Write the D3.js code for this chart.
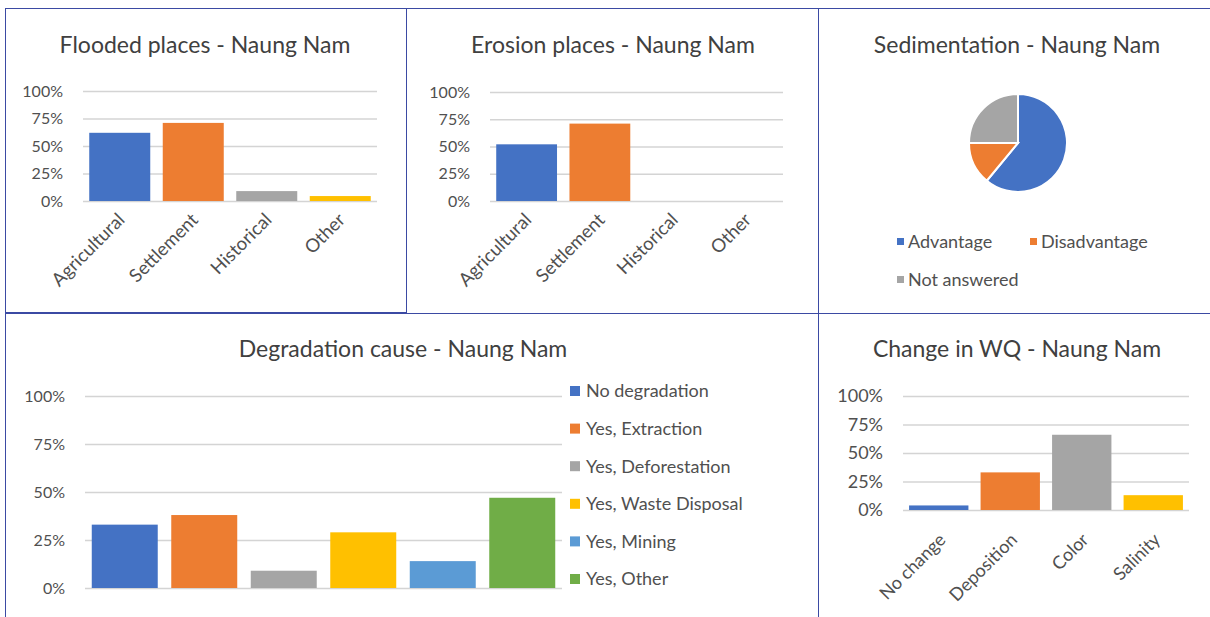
<!DOCTYPE html>
<html>
<head>
<meta charset="utf-8">
<script src="https://cdn.jsdelivr.net/npm/d3@7"></script>
<style>
  body { margin: 0; background: #fff; }
  text { font-family: Lato, "Open Sans", sans-serif; }
</style>
</head>
<body>
<script>
// values (shares, 0..1)
const placeCats = ["Agricultural", "Settlement", "Historical", "Other"];
const floodedVals = [0.62, 0.71, 0.09, 0.045];
const erosionVals = [0.52, 0.71, 0, 0];

const sedimentCats = ["Advantage", "Disadvantage", "Not answered"];
const sedimentVals = [0.61, 0.14, 0.25];

const degradCats = ["No degradation", "Yes, Extraction", "Yes, Deforestation",
                    "Yes, Waste Disposal", "Yes, Mining", "Yes, Other"];
const degradVals = [0.33, 0.38, 0.09, 0.29, 0.14, 0.47];

const wqCats = ["No change", "Deposition", "Color", "Salinity"];
const wqVals = [0.04, 0.33, 0.66, 0.13];

const pctTicks = [0, 0.25, 0.5, 0.75, 1];
const palette = ["#4472C4", "#ED7D31", "#A5A5A5", "#FFC000", "#5B9BD5", "#70AD47"];

const svg = d3.select('body').append('svg')
    .attr('width', 1210)
    .attr('height', 617);

// panel frames
const frames = [
    [5, 8, 401, 304], [406, 8, 412, 305], [818, 8, 400, 305],
    [5, 313, 813, 310], [818, 313, 400, 310]
];
svg.selectAll('rect.frame')
    .data(frames)
    .enter()
    .append('rect')
    .attr('class', 'frame')
    .attr('x', d => d[0] + 0.5)
    .attr('y', d => d[1] + 0.5)
    .attr('width', d => d[2])
    .attr('height', d => d[3])
    .attr('fill', 'none')
    .attr('stroke', '#3b4aa3')
    .attr('stroke-width', 1);

function title(x, y, txt) {
    svg.append('text')
        .attr('x', x)
        .attr('y', y)
        .attr('text-anchor', 'middle')
        .attr('font-size', 23)
        .attr('fill', '#404040')
        .text(txt);
}

function barChart(o) {
    const x = d3.scaleBand().domain(o.cats).range([o.x0, o.x1]).paddingInner(0.17).paddingOuter(0.085);
    const y = d3.scaleLinear().domain([0, 1]).range([o.y0, o.y1]);
    const g = svg.append('g');

    const yAxis = d3.axisLeft(y)
        .tickValues(pctTicks)
        .tickFormat(d3.format('.0%'))
        .tickSize(-(o.x1 - o.x0))
        .tickPadding(o.tickPad);
    const ya = g.append('g')
        .attr('transform', `translate(${o.x0},0)`)
        .call(yAxis);
    ya.select('.domain').remove();
    ya.selectAll('line').attr('stroke', '#d4d4d4').attr('stroke-width', 1.4);
    ya.selectAll('text')
        .attr('font-size', o.tickSize)
        .attr('fill', '#505050');

    g.selectAll('rect.bar')
        .data(o.vals)
        .enter()
        .append('rect')
        .attr('class', 'bar')
        .attr('x', (_, i) => x(o.cats[i]))
        .attr('y', d => y(d))
        .attr('width', x.bandwidth())
        .attr('height', d => o.y0 - y(d))
        .attr('fill', (_, i) => palette[i]);

    if (o.rotLabels) {
        g.selectAll('text.cat')
            .data(o.cats)
            .enter()
            .append('text')
            .attr('class', 'cat')
            .attr('text-anchor', 'end')
            .attr('font-size', o.labelSize)
            .attr('fill', '#505050')
            .attr('transform', d => `translate(${x(d) + x.bandwidth() / 2 + o.labDx},${o.y0 + o.labDy}) rotate(-45)`)
            .text(d => d);
    }
    return x;
}

// Flooded places
title(205, 53, 'Flooded places - Naung Nam');
barChart({cats: placeCats, vals: floodedVals, x0: 83, x1: 377, y0: 201, y1: 91,
    tickPad: 20, tickSize: 16, rotLabels: true, labelSize: 18.5, labDx: 6, labDy: 20});

// Erosion places
title(613, 53, 'Erosion places - Naung Nam');
barChart({cats: placeCats, vals: erosionVals, x0: 490, x1: 783, y0: 201, y1: 92,
    tickPad: 20, tickSize: 16, rotLabels: true, labelSize: 18.5, labDx: 6, labDy: 20});

// Sedimentation pie
title(1017, 53, 'Sedimentation - Naung Nam');
const pie = d3.pie().sort(null).value(d => d);
const arc = d3.arc().innerRadius(0).outerRadius(49);
svg.append('g')
    .attr('transform', 'translate(1018,143)')
    .selectAll('path')
    .data(pie(sedimentVals))
    .enter()
    .append('path')
    .attr('d', arc)
    .attr('fill', (_, i) => palette[i])
    .attr('stroke', '#fff')
    .attr('stroke-width', 2);

const pieLegPos = [[897, 242], [1030, 242], [897, 280]];
const pieLeg = svg.selectAll('g.pleg')
    .data(sedimentCats)
    .enter()
    .append('g')
    .attr('class', 'pleg')
    .attr('transform', (_, i) => `translate(${pieLegPos[i][0]},${pieLegPos[i][1]})`);
pieLeg.append('rect')
    .attr('x', 0).attr('y', -4).attr('width', 7).attr('height', 7)
    .attr('fill', (_, i) => palette[i]);
pieLeg.append('text')
    .attr('x', 11).attr('y', 0).attr('dy', '0.35em')
    .attr('font-size', 18).attr('fill', '#505050')
    .text(d => d);

// Degradation cause
title(403, 357, 'Degradation cause - Naung Nam');
barChart({cats: degradCats, vals: degradVals, x0: 85, x1: 562, y0: 588, y1: 396,
    tickPad: 20, tickSize: 16, rotLabels: false});

const degLeg = svg.selectAll('g.dleg')
    .data(degradCats)
    .enter()
    .append('g')
    .attr('class', 'dleg')
    .attr('transform', (_, i) => `translate(570,${391 + i * 37.6})`);
degLeg.append('rect')
    .attr('x', 0).attr('y', -5).attr('width', 10).attr('height', 10)
    .attr('fill', (_, i) => palette[i]);
degLeg.append('text')
    .attr('x', 16).attr('y', 0).attr('dy', '0.35em')
    .attr('font-size', 18).attr('fill', '#505050')
    .text(d => d);

// Change in WQ
title(1017, 357, 'Change in WQ - Naung Nam');
barChart({cats: wqCats, vals: wqVals, x0: 903, x1: 1189, y0: 510, y1: 396,
    tickPad: 20, tickSize: 18, rotLabels: true, labelSize: 18, labDx: 8, labDy: 31});
</script>
</body>
</html>
